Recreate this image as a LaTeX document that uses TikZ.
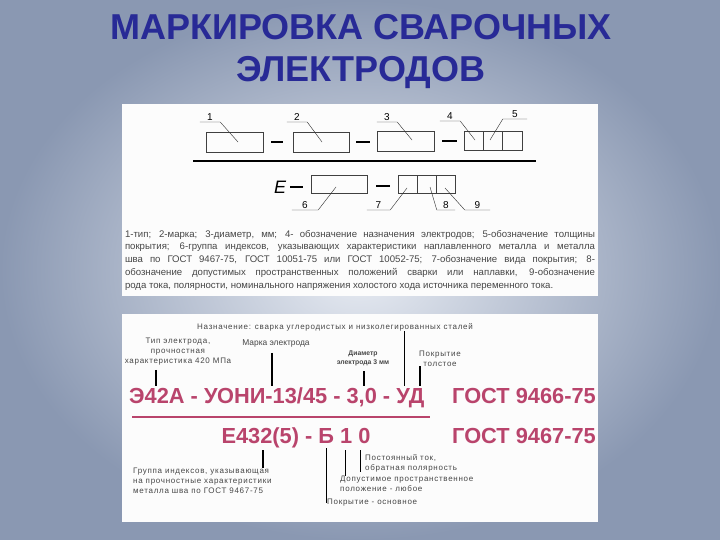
\documentclass[tikz,border=0pt]{standalone}
\usepackage{fontspec}
\setmainfont{Liberation Sans}
\newfontfamily\widefont[LetterSpace=9]{Liberation Sans}
\usetikzlibrary{calc}
\definecolor{titleblue}{RGB}{40,42,150}
\definecolor{markred}{RGB}{185,68,108}
\definecolor{notegray}{RGB}{70,70,70}
\definecolor{skylight}{RGB}{232,236,243}
\definecolor{skydark}{RGB}{138,152,178}
\definecolor{panelwhite}{RGB}{252,252,252}
\tikzset{
	title/.style={font=\fontsize{36}{40}\selectfont\bfseries, text=titleblue, inner sep=0pt, anchor=base},
	cell/.style={draw=black!75, line width=0.25mm, inner sep=0pt, minimum height=20pt},
	num/.style={font=\fontsize{10}{10}\selectfont, inner sep=1pt, anchor=south},
	leader/.style={draw=black!80, line width=0.15mm},
	hyph/.style={line width=0.4mm},
	small/.style={font=\fontsize{8}{10}\selectfont\widefont, text=notegray, inner sep=0pt},
	redcode/.style={font=\fontsize{21.8}{24}\selectfont\bfseries, text=markred, inner sep=0pt},
	tick/.style={line width=0.45mm},
}

\begin{document}
\begin{tikzpicture}[x=1pt, y=-1pt]
		%%%%% START %%%%%
		\useasboundingbox (0,0) rectangle (720,540);
		\shade[inner color=skylight, outer color=skydark] (0,0) rectangle (720,540);
		
		\node[title] (titlea) at (361,40) {МАРКИРОВКА СВАРОЧНЫХ};
		\node[title] (titleb) at (361,82) {ЭЛЕКТРОДОВ};
		
		\fill[panelwhite] (122,104) rectangle (598,296);
		\fill[panelwhite] (122,314) rectangle (598,522);
		
		% upper scheme
		\node[cell, minimum width=57pt] (box1) at (234.5,142) {};
		\node[cell, minimum width=56pt] (box2) at (321,142) {};
		\node[cell, minimum width=57pt] (box3) at (405.5,141.5) {};
		\node[cell, minimum width=19.3pt, minimum height=19pt] (cell4) at (473.7,140.5) {};
		\node[cell, minimum width=19.3pt, minimum height=19pt] (cell5) at (493,140.5) {};
		\node[cell, minimum width=19.3pt, minimum height=19pt] (cella) at (512.3,140.5) {};
		
		\draw[hyph] (271,142) -- (283,142);
		\draw[hyph] (356,142) -- (370,142);
		\draw[line width=0.8mm] (442,141) -- (457,141);
		
		\coordinate (p1) at (238,142);
		\coordinate (p2) at (322,142);
		\coordinate (p3) at (412,140);
		\coordinate (p4) at (475,140);
		\coordinate (p5) at (490,140);
		\node[num, minimum width=20pt] (n1) at (210,122) {1};
		\node[num, minimum width=20pt] (n2) at (297,122) {2};
		\node[num, minimum width=20pt] (n3) at (387,122) {3};
		\node[num, minimum width=20pt] (n4) at (450,121) {4};
		\node[num, minimum width=24pt] (n5) at (515,119) {5};
		\draw[leader] (n1.south west) -- (n1.south east) -- (p1);
		\draw[leader] (n2.south west) -- (n2.south east) -- (p2);
		\draw[leader] (n3.south west) -- (n3.south east) -- (p3);
		\draw[leader] (n4.south west) -- (n4.south east) -- (p4);
		\draw[leader] (n5.south east) -- (n5.south west) -- (p5);
		
		\draw[line width=0.45mm] (193,161) -- (536,161);
		
		\node[font=\fontsize{18}{18}\selectfont\itshape, inner sep=0pt] (elet) at (280,187) {E};
		\draw[hyph] (290,187) -- (303,187);
		\node[cell, minimum width=56pt, minimum height=18pt] (box6) at (339,184) {};
		\draw[line width=0.8mm] (376,186) -- (390,186);
		\node[cell, minimum width=19pt, minimum height=18pt] (cell7) at (407.5,184) {};
		\node[cell, minimum width=19pt, minimum height=18pt] (cell8) at (426.5,184) {};
		\node[cell, minimum width=19pt, minimum height=18pt] (cell9) at (445.5,184) {};
		
		\coordinate (p6) at (336,187);
		\coordinate (p7) at (407,188);
		\coordinate (p8) at (430,187);
		\coordinate (p9) at (445,188);
		\node[num, minimum width=26pt] (n6) at (305,210) {6};
		\node[num, minimum width=23pt] (n7) at (378.5,210) {7};
		\node[num, minimum width=18pt] (n8) at (446,210) {8};
		\node[num, minimum width=25pt] (n9) at (477.5,210) {9};
		\draw[leader] (n6.south west) -- (n6.south east) -- (p6);
		\draw[leader] (n7.south west) -- (n7.south east) -- (p7);
		\draw[leader] (n8.south east) -- (n8.south west) -- (p8);
		\draw[leader] (n9.south east) -- (n9.south west) -- (p9);
		
		\node[font=\fontsize{9.6}{12.75}\selectfont, text=notegray, text width=470pt, align=justify, inner sep=0pt, anchor=north] (legend) at (360,230) {1-тип; 2-марка; 3-диаметр, мм; 4- обозначение назначения электродов; 5-обозначение толщины\linebreak покрытия; 6-группа индексов, указывающих характеристики наплавленного металла и металла\linebreak шва по ГОСТ 9467-75, ГОСТ 10051-75 или ГОСТ 10052-75; 7-обозначение вида покрытия; 8-\linebreak обозначение допустимых пространственных положений сварки или наплавки, 9-обозначение\linebreak рода тока, полярности, номинального напряжения холостого хода источника переменного тока.};
		
		% lower example
		\node[small] (purpose) at (335,327) {Назначение: сварка углеродистых и низколегированных сталей};
		\node[small, align=center] (typ) at (178,352) {Тип электрода,\\прочностная\\характеристика 420 МПа};
		\node[small, font=\fontsize{8.4}{10}\selectfont] (brand) at (276,343) {Марка электрода};
		\node[small, font=\fontsize{6.8}{9}\selectfont\bfseries, align=center] (diam) at (363,358.5) {Диаметр\\электрода 3 мм};
		\node[small, align=center] (coat) at (440,358.5) {Покрытие\\толстое};
		
		\node[redcode, anchor=base west] (codea) at (129,403) {Э42А - УОНИ-13/45 - 3,0 - УД};
		\node[redcode, anchor=base east] (gosta) at (596,403) {ГОСТ 9466-75};
		\draw[line width=0.5mm, markred] (132,417) -- (430,417);
		\node[redcode, anchor=base] (codeb) at (296,443) {Е432(5) - Б 1 0};
		\node[redcode, anchor=base east] (gostb) at (596,443) {ГОСТ 9467-75};
		
		\coordinate (t1) at (156,386);
		\coordinate (t2) at (272,386);
		\coordinate (t3) at (364,386);
		\coordinate (t4) at (404,386);
		\coordinate (t5) at (420,386);
		\draw[tick, shorten <=4pt] (typ.south -| t1) -- (t1);
		\draw[tick, shorten <=6pt] (brand.south -| t2) -- (t2);
		\draw[tick, shorten <=5pt] (diam.south -| t3) -- (t3);
		\draw[line width=0.3mm] (purpose.south -| t4) -- (t4);
		\draw[tick] (coat.south -| t5) -- (t5);
		
		\node[small, align=left, anchor=north west] (group) at (133,468) {Группа индексов, указывающая\\на прочностные характеристики\\металла шва по ГОСТ 9467-75};
		\node[small, align=left, anchor=north west] (dc) at (365,454) {Постоянный ток,\\обратная полярность};
		\node[small, align=left, anchor=north west] (allow) at (340,476) {Допустимое пространственное\\положение - любое};
		\node[small, anchor=west] (cover) at (327,503) {Покрытие - основное};
		
		\coordinate (b1) at (263,450);
		\coordinate (b2) at (326,448);
		\coordinate (b3) at (345,450);
		\coordinate (b4) at (360,450);
		\draw[tick] (b1) -- (b1 |- group.north);
		\draw[line width=0.35mm] (b2) -- (b2 |- cover.center);
		\draw[line width=0.35mm] (b3) -- (b3 |- allow.north);
		\draw[line width=0.25mm] (b4) -- (b4 |- dc.south);
		
		%%%%% END %%%%%
\end{tikzpicture}
\end{document}
